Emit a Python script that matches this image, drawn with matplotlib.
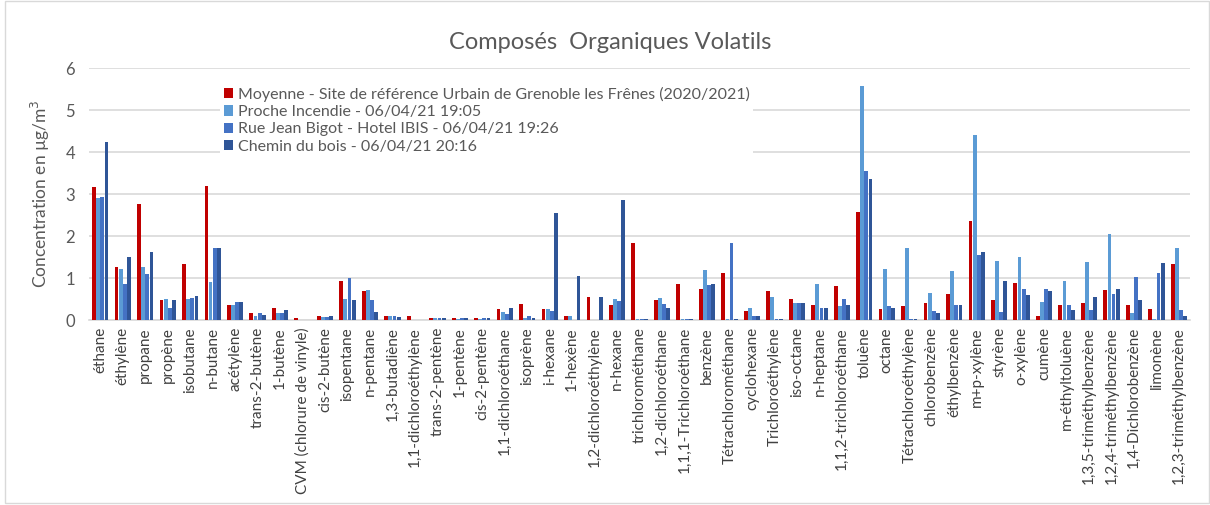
import numpy as np
import matplotlib.pyplot as plt
from matplotlib.patches import Rectangle

plt.rcParams['font.family'] = ['Lato', 'DejaVu Sans']

# Données (µg/m3)
composes = ['éthane', 'éthylène', 'propane', 'propène', 'isobutane', 'n-butane',
            'acétylène', 'trans-2-butène', '1-butène', 'CVM (chlorure de vinyle)',
            'cis-2-butène', 'isopentane', 'n-pentane', '1,3-butadiène',
            '1,1-dichloroéthylène', 'trans-2-pentène', '1-pentène', 'cis-2-pentène',
            '1,1-dichloroéthane', 'isoprène', 'i-hexane', '1-hexène',
            '1,2-dichloroéthylène', 'n-hexane', 'trichlorométhane',
            '1,2-dichloroéthane', '1,1,1-Trichloroéthane', 'benzène',
            'Tétrachlorométhane', 'cyclohexane', 'Trichloroéthylène', 'iso-octane',
            'n-heptane', '1,1,2-trichloroéthane', 'toluène', 'octane',
            'Tétrachloroéthylène', 'chlorobenzène', 'éthylbenzène', 'm+p-xylène',
            'styrène', 'o-xylène', 'cumène', 'm-éthyltoluène',
            '1,3,5-triméthylbenzène', '1,2,4-triméthylbenzène',
            '1,4-Dichlorobenzène', 'limonène', '1,2,3-triméthylbenzène']

moyenne = [3.16, 1.26, 2.76, 0.48, 1.33, 3.19, 0.37, 0.16, 0.28, 0.04,
           0.09, 0.93, 0.69, 0.10, 0.10, 0.04, 0.06, 0.04, 0.26, 0.38,
           0.26, 0.09, 0.54, 0.35, 1.84, 0.48, 0.87, 0.74, 1.13, 0.21,
           0.69, 0.50, 0.35, 0.81, 2.58, 0.26, 0.33, 0.41, 0.62, 2.37,
           0.48, 0.89, 0.11, 0.35, 0.41, 0.72, 0.35, 0.26, 1.33]
incendie = [2.91, 1.22, 1.26, 0.50, 0.50, 0.91, 0.35, 0.09, 0.18, 0.0,
            0.07, 0.50, 0.72, 0.10, 0.0, 0.04, 0.03, 0.02, 0.19, 0.05,
            0.26, 0.09, 0.0, 0.50, 0.02, 0.52, 0.02, 1.19, 0.02, 0.30,
            0.55, 0.41, 0.87, 0.33, 5.57, 1.22, 1.72, 0.65, 1.17, 4.40,
            1.41, 1.50, 0.43, 0.93, 1.38, 2.04, 0.17, 0.02, 1.73]
ibis = [2.93, 0.85, 1.09, 0.29, 0.52, 1.73, 0.44, 0.16, 0.18, 0.0,
        0.07, 1.00, 0.48, 0.10, 0.0, 0.06, 0.04, 0.04, 0.15, 0.11,
        0.21, 0.0, 0.0, 0.45, 0.02, 0.38, 0.02, 0.83, 1.84, 0.11,
        0.02, 0.41, 0.28, 0.50, 3.55, 0.33, 0.02, 0.21, 0.35, 1.55,
        0.20, 0.74, 0.74, 0.35, 0.24, 0.63, 1.02, 1.13, 0.24]
bois = [4.25, 1.50, 1.63, 0.48, 0.57, 1.73, 0.44, 0.12, 0.24, 0.0,
        0.10, 0.48, 0.20, 0.07, 0.0, 0.06, 0.04, 0.04, 0.28, 0.05,
        2.54, 1.05, 0.54, 2.86, 0.02, 0.29, 0.02, 0.87, 0.02, 0.11,
        0.02, 0.41, 0.28, 0.37, 3.36, 0.28, 0.02, 0.17, 0.35, 1.63,
        0.93, 0.61, 0.69, 0.24, 0.55, 0.74, 0.48, 1.35, 0.09]

series = [moyenne, incendie, ibis, bois]
noms = ['Moyenne - Site de référence Urbain de Grenoble les Frênes (2020/2021)',
        'Proche Incendie - 06/04/21 19:05',
        'Rue Jean Bigot - Hotel IBIS - 06/04/21 19:26',
        'Chemin du bois - 06/04/21 20:16']
couleurs = ['#C00000', '#5B9BD5', '#4472C4', '#2F5597']

gris = '#595959'
fig = plt.figure(figsize=(12.1, 5.05), dpi=100)
ax = fig.add_axes([0.0736, 0.366, 0.91, 0.499])

x = np.arange(len(composes))
larg = 0.185
for i, (vals, nom, c) in enumerate(zip(series, noms, couleurs)):
    ax.bar(x + (i - 1.5) * larg, vals, larg * 0.92, color=c, label=nom, zorder=3)

ax.set_xlim(-0.5, len(composes) - 0.5)
ax.set_ylim(0, 6)
ax.set_yticks(range(7))
ax.yaxis.grid(True, color='#D9D9D9', lw=1.2, zorder=0)
for s in ['top', 'right', 'left']:
    ax.spines[s].set_visible(False)
ax.spines['bottom'].set_color('#D9D9D9')
ax.spines['bottom'].set_linewidth(1.2)
ax.tick_params(length=0, colors=gris, labelsize=12)
ax.tick_params(axis='y', pad=10)
ax.set_xticks(x)
ax.set_xticklabels(composes, rotation=90, fontsize=11, color='#404040')
ax.tick_params(axis='x', pad=5)
ax.set_ylabel('Concentration en µg/m$^3$', fontsize=12.5, color=gris, labelpad=10)

fig.text(0.504, 0.915, 'Composés  Organiques Volatils', ha='center', va='center',
         fontsize=17, color=gris)

leg = ax.legend(loc='upper left', bbox_to_anchor=(0.112, 0.97), frameon=True,
                fontsize=11.5, handlelength=0.6, handleheight=0.6,
                handletextpad=0.3, labelspacing=0.2, borderpad=0.2)
leg.get_frame().set_facecolor('white')
leg.get_frame().set_edgecolor('none')
leg.get_frame().set_alpha(1)
for t in leg.get_texts():
    t.set_color(gris)

# cadre du graphique
fig.patches.append(Rectangle((0.004, 0.003), 0.995, 0.996, transform=fig.transFigure,
                             fill=False, edgecolor='#D9D9D9', lw=1))

plt.savefig('out.png', dpi=100)
